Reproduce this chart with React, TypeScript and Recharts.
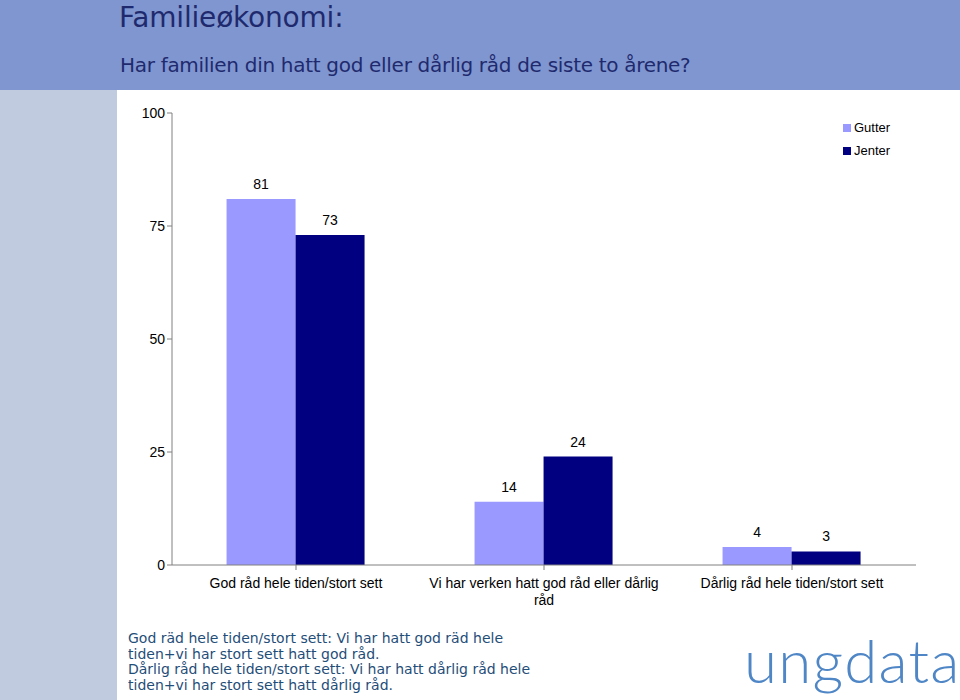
import React from "react";
import { BarChart, Bar, XAxis, YAxis, LabelList, Text } from "recharts";

const categories = [
  "God råd hele tiden/stort sett",
  "Vi har verken hatt god råd eller dårlig råd",
  "Dårlig råd hele tiden/stort sett",
];
const gutter = [81, 14, 4];
const jenter = [73, 24, 3];
const yTicks = [0, 25, 50, 75, 100];

const data = categories.map((name, i) => ({
  name,
  Gutter: gutter[i],
  Jenter: jenter[i],
}));

const GUTTER_COLOR = "#9999ff";
const JENTER_COLOR = "#000080";

const CategoryTick = (props: any) => {
  const { x, y, payload } = props;
  return (
    <Text
      x={x}
      y={y + 6}
      width={250}
      textAnchor="middle"
      verticalAnchor="start"
      fontSize={14}
      fontFamily="'Liberation Sans', Arial, sans-serif"
      fill="#000"
      lineHeight={17}
    >
      {payload.value}
    </Text>
  );
};

const Legend = () => (
  <div
    style={{
      position: "absolute",
      left: 843,
      top: 116,
      fontFamily: "'Liberation Sans', Arial, sans-serif",
      fontSize: 13,
      color: "#000",
    }}
  >
    {[
      ["Gutter", GUTTER_COLOR],
      ["Jenter", JENTER_COLOR],
    ].map(([label, color]) => (
      <div key={label} style={{ display: "flex", alignItems: "center", height: 23 }}>
        <span style={{ width: 8, height: 8, background: color, marginRight: 3 }} />
        {label}
      </div>
    ))}
  </div>
);

export default function App() {
  return (
    <div
      style={{
        position: "absolute",
        left: 0,
        top: 0,
        width: 960,
        height: 700,
        background: "#fff",
        overflow: "hidden",
      }}
    >
      {/* header band */}
      <div
        style={{
          position: "absolute",
          left: 0,
          top: 0,
          width: 960,
          height: 90,
          background: "#8096d0",
        }}
      />
      {/* left strip */}
      <div
        style={{
          position: "absolute",
          left: 0,
          top: 90,
          width: 117,
          height: 610,
          background: "#c0cbe0",
        }}
      />
      <div
        style={{
          position: "absolute",
          left: 119,
          top: 1,
          fontFamily: "'DejaVu Sans', Verdana, sans-serif",
          fontSize: 28,
          color: "#1f2a6e",
          letterSpacing: -0.2,
        }}
      >
        Familieøkonomi:
      </div>
      <div
        style={{
          position: "absolute",
          left: 120,
          top: 53,
          fontFamily: "'DejaVu Sans', Verdana, sans-serif",
          fontSize: 20,
          color: "#1f2a6e",
          letterSpacing: -0.3,
        }}
      >
        Har familien din hatt god eller dårlig råd de siste to årene?
      </div>

      <div style={{ position: "absolute", left: 0, top: 0 }}>
        <BarChart
          width={960}
          height={700}
          data={data}
          margin={{ top: 113, right: 44, bottom: 85, left: 122 }}
          barCategoryGap="22%"
          barGap={0}
        >
          <XAxis
            dataKey="name"
            height={50}
            tick={<CategoryTick />}
            tickLine={{ stroke: "#808080" }}
            axisLine={{ stroke: "#808080" }}
            tickSize={5}
            interval={0}
          />
          <YAxis
            width={50}
            domain={[0, 100]}
            ticks={yTicks}
            tickSize={5}
            tickLine={{ stroke: "#808080" }}
            axisLine={{ stroke: "#808080" }}
            tick={{
              fontSize: 14,
              fill: "#000",
              fontFamily: "'Liberation Sans', Arial, sans-serif",
            }}
          />
          <Bar dataKey="Gutter" fill={GUTTER_COLOR} isAnimationActive={false}>
            <LabelList
              dataKey="Gutter"
              position="top"
              offset={10}
              fontSize={14}
              fill="#000"
              fontFamily="'Liberation Sans', Arial, sans-serif"
            />
          </Bar>
          <Bar dataKey="Jenter" fill={JENTER_COLOR} isAnimationActive={false}>
            <LabelList
              dataKey="Jenter"
              position="top"
              offset={10}
              fontSize={14}
              fill="#000"
              fontFamily="'Liberation Sans', Arial, sans-serif"
            />
          </Bar>
        </BarChart>
      </div>

      <Legend />

      {/* footnote */}
      <div
        style={{
          position: "absolute",
          left: 128,
          top: 631,
          fontFamily: "'DejaVu Sans', Verdana, sans-serif",
          fontSize: 14,
          lineHeight: "15.7px",
          color: "#1f4e79",
        }}
      >
        God räd hele tiden/stort sett: Vi har hatt god räd hele
        <br />
        tiden+vi har stort sett hatt god råd.
        <br />
        Dårlig råd hele tiden/stort sett: Vi har hatt dårlig råd hele
        <br />
        tiden+vi har stort sett hatt dårlig råd.
      </div>

      {/* logo */}
      <div
        style={{
          position: "absolute",
          left: 744,
          top: 625,
          fontFamily: "Lato, 'Noto Sans', sans-serif",
          fontWeight: 300,
          fontSize: 60,
          lineHeight: "70px",
          color: "#4f86c6",
          letterSpacing: 1.3,
        }}
      >
        ungdata
      </div>
    </div>
  );
}
